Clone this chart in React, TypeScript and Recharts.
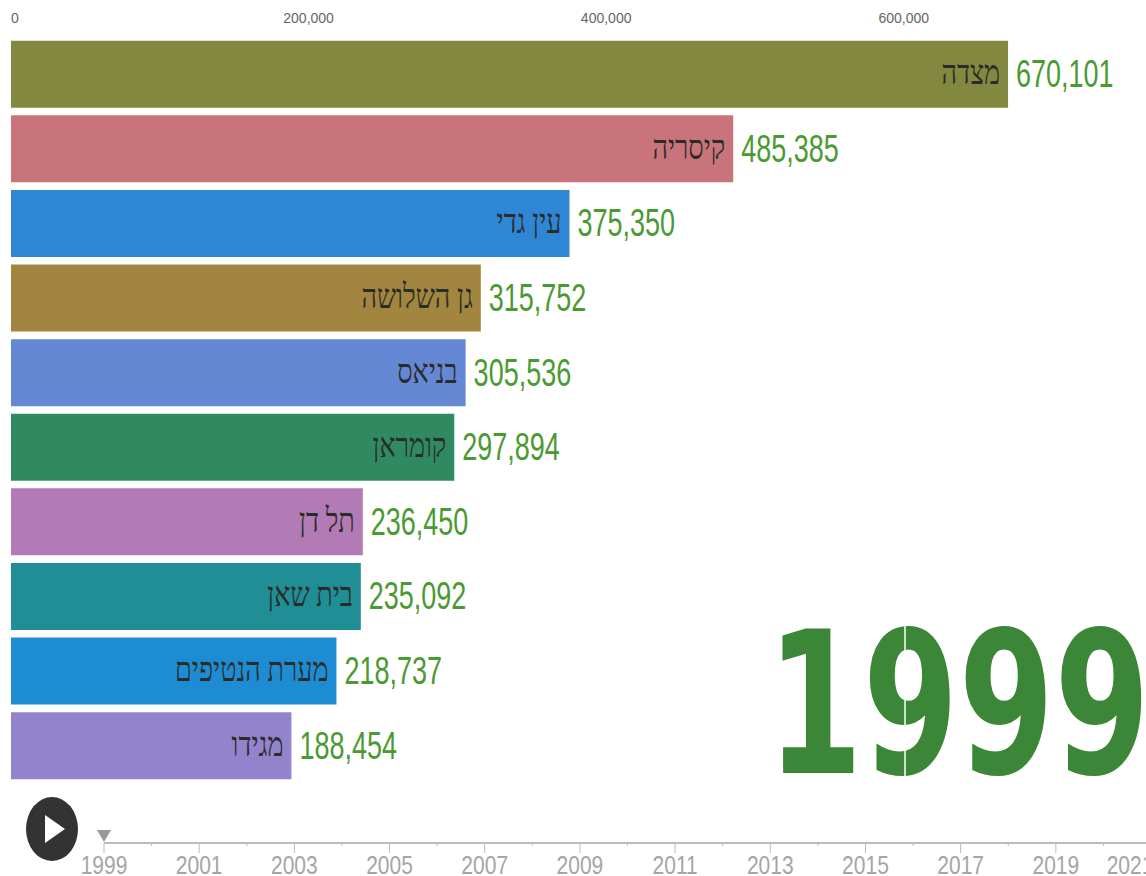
import { BarChart, Bar, Cell, XAxis, YAxis, LabelList, ComposedChart } from 'recharts';

const SITES = ['מצדה', 'קיסריה', 'עין גדי', 'גן השלושה', 'בניאס', 'קומראן', 'תל דן', 'בית שאן', 'מערת הנטיפים', 'מגידו'];
const VISITORS = [670101, 485385, 375350, 315752, 305536, 297894, 236450, 235092, 218737, 188454];
const COLORS = ['#82883f', '#c9747a', '#2e86d4', '#a2853e', '#6488d4', '#2f8a62', '#b27bb5', '#1f8e95', '#1e8cd2', '#9283cc'];
const VALUE_TICKS = [0, 200000, 400000, 600000];
const YEARS = [1999, 2000, 2001, 2002, 2003, 2004, 2005, 2006, 2007, 2008, 2009, 2010, 2011, 2012, 2013, 2014, 2015, 2016, 2017, 2018, 2019, 2020, 2021];
const CURRENT_YEAR = 1999;

const NARROW = '"Liberation Sans Narrow", "Liberation Sans", sans-serif';

const chartData = SITES.map((name, i) => ({ name, visitors: VISITORS[i] }));
const yearData = YEARS.map((year) => ({ year }));

function formatNumber(value: number): string {
  return new Intl.NumberFormat('en-US').format(value);
}

function ValueLabel(props: any) {
  const { x, y, width, height, value } = props;
  const px = x + width + 8;
  const py = y + height / 2 + 13;
  return (
    <text transform={`translate(${px},${py}) scale(1,1.45)`} fontFamily={NARROW} fontSize={27} fill="#4a9a32">
      {formatNumber(value)}
    </text>
  );
}

function NameLabel(props: any) {
  const { x, y, width, height, value } = props;
  const px = x + width - 8;
  const py = y + height / 2 + 10;
  return (
    <text
      transform={`translate(${px},${py}) scale(1,1.25)`}
      textAnchor="end"
      fontFamily='"Liberation Serif", serif'
      fontSize={27}
      fill="#2a2c2a"
    >
      {value}
    </text>
  );
}

function ValueTick(props: any) {
  const { x, y, payload } = props;
  return (
    <text
      x={payload.value === 0 ? x + 4 : x}
      y={y}
      textAnchor="middle"
      fontFamily={NARROW}
      fontSize={14}
      fill="#666"
    >
      {formatNumber(payload.value)}
    </text>
  );
}

function YearTick(props: any) {
  const { x, y, payload } = props;
  const year = payload.value;
  const major = year % 2 === 1;
  return (
    <g>
      {year === CURRENT_YEAR && <path d={`M${x - 7} ${y - 13} H${x + 7} L${x} ${y - 1} Z`} fill="#999" />}
      <line x1={x} x2={x} y1={y} y2={y + (major ? 10 : 3)} stroke="#bbb" />
      {major && (
        <text
          transform={`translate(${year === 2021 ? x - 21 : x},${y + 31}) scale(1,1.25)`}
          textAnchor="middle"
          fontFamily={NARROW}
          fontSize={21}
          fill="#a5a5a5"
        >
          {year}
        </text>
      )}
    </g>
  );
}

export default function App() {
  return (
    <div style={{ position: 'absolute', left: 0, top: 0, width: 1146, height: 876, overflow: 'hidden', background: '#fff' }}>
      <BarChart
        width={1146}
        height={783}
        data={chartData}
        layout="vertical"
        barCategoryGap="5%"
        margin={{ top: 0, right: 0, bottom: 0, left: 11 }}
      >
        <XAxis
          type="number"
          orientation="top"
          height={37}
          domain={[0, 762800]}
          ticks={VALUE_TICKS}
          axisLine={false}
          tickLine={false}
          interval={0}
          tick={ValueTick}
          tickMargin={8}
        />
        <YAxis type="category" dataKey="name" hide />
        <Bar dataKey="visitors" isAnimationActive={false}>
          {chartData.map((_entry, index) => (
            <Cell key={index} fill={COLORS[index % COLORS.length]} />
          ))}
          <LabelList dataKey="visitors" content={ValueLabel} />
          <LabelList dataKey="name" content={NameLabel} />
        </Bar>
      </BarChart>

      <svg width={1146} height={876} style={{ position: 'absolute', left: 0, top: 0, pointerEvents: 'none' }}>
        <text
          transform="translate(767,773) scale(0.695,1)"
          fontFamily='"DejaVu Sans", sans-serif'
          fontWeight={700}
          fontSize={198}
          fill="#3c8637"
        >
          {CURRENT_YEAR}
        </text>
        <line x1={905} x2={905} y1={620} y2={780} stroke="#fff" strokeWidth={1.5} />
        <ellipse cx={52} cy={829} rx={26} ry={32} fill="#333" />
        <path d="M45 815 L65 829 L45 843 Z" fill="#fff" />
      </svg>

      <div style={{ position: 'absolute', left: 0, top: 800 }}>
        <ComposedChart
          width={1160}
          height={76}
          data={yearData}
          margin={{ top: 0, right: 9, bottom: 0, left: 104 }}
        >
          <XAxis
            type="number"
            dataKey="year"
            domain={[1999, 2021]}
            ticks={YEARS}
            interval={0}
            height={33}
            tickLine={false}
            tickSize={0}
            tickMargin={0}
            axisLine={{ stroke: '#bbb', strokeWidth: 2 }}
            tick={YearTick}
          />
          <YAxis hide domain={[0, 1]} />
        </ComposedChart>
      </div>
    </div>
  );
}
